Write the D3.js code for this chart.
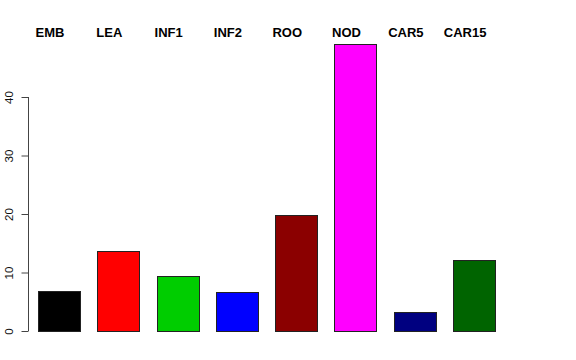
<!DOCTYPE html>
<html>
<head>
<meta charset="utf-8">
<script src="https://cdn.jsdelivr.net/npm/d3@7"></script>
<style>
  body { margin: 0; background: #fff; }
  svg { font-family: "Liberation Sans", Arial, sans-serif; }
</style>
</head>
<body>
<svg class="barplot" width="576" height="360"></svg>
<script>
const categories = ["EMB", "LEA", "INF1", "INF2", "ROO", "NOD", "CAR5", "CAR15"];
const values = [6.8, 13.7, 9.35, 6.65, 19.9, 49.1, 3.2, 12.1];
const colors = ["#000000", "#FF0000", "#00CD00", "#0000FF", "#8B0000", "#FF00FF", "#000080", "#006400"];
const yTicks = [0, 10, 20, 30, 40];

const chart = d3.select(".barplot");

let x = d3.scaleBand()
  .domain(categories)
  .range([29.4, 503.8])
  .paddingInner(0.29)
  .paddingOuter(0.145);
let y = d3.scaleLinear()
  .domain([0, 40])
  .range([331, 97]);

// y axis, R style: rotated labels, ticks outside
let axis = d3.axisLeft(y).tickValues(yTicks).tickSize(7);
chart.append("g")
  .attr("transform", "translate(28.5,0)")
  .call(axis)
  .call(g => {
    g.select(".domain").attr("d", `M0,${y(0)}V${y(40)}`).attr("stroke", "#444");
    g.selectAll(".tick line").attr("stroke", "#444");
    g.selectAll(".tick text")
      .attr("font-size", "11.5px")
      .attr("fill", "#111")
      .attr("x", 0)
      .attr("y", 0)
      .attr("dy", "0.35em")
      .attr("text-anchor", "middle")
      .attr("transform", "translate(-20,0) rotate(-90)");
  });

chart.selectAll(".bar")
  .data(values)
  .enter().append("rect")
  .attr("class", "bar")
  .attr("x", (d, i) => Math.round(x(categories[i])) + 0.5)
  .attr("y", d => Math.round(y(d)) + 0.5)
  .attr("width", Math.round(x.bandwidth()))
  .attr("height", d => Math.round(y(0)) - Math.round(y(d)))
  .attr("fill", (d, i) => colors[i])
  .style("stroke", "#222")
  .style("stroke-width", 1);

// category labels across the top
chart.selectAll(".cat")
  .data(categories)
  .enter().append("text")
  .attr("class", "cat")
  .attr("x", d => x(d) + x.bandwidth() / 2 - 9)
  .attr("y", 36.5)
  .attr("text-anchor", "middle")
  .attr("font-size", "13px")
  .attr("font-weight", "bold")
  .text(d => d);
</script>
</body>
</html>
